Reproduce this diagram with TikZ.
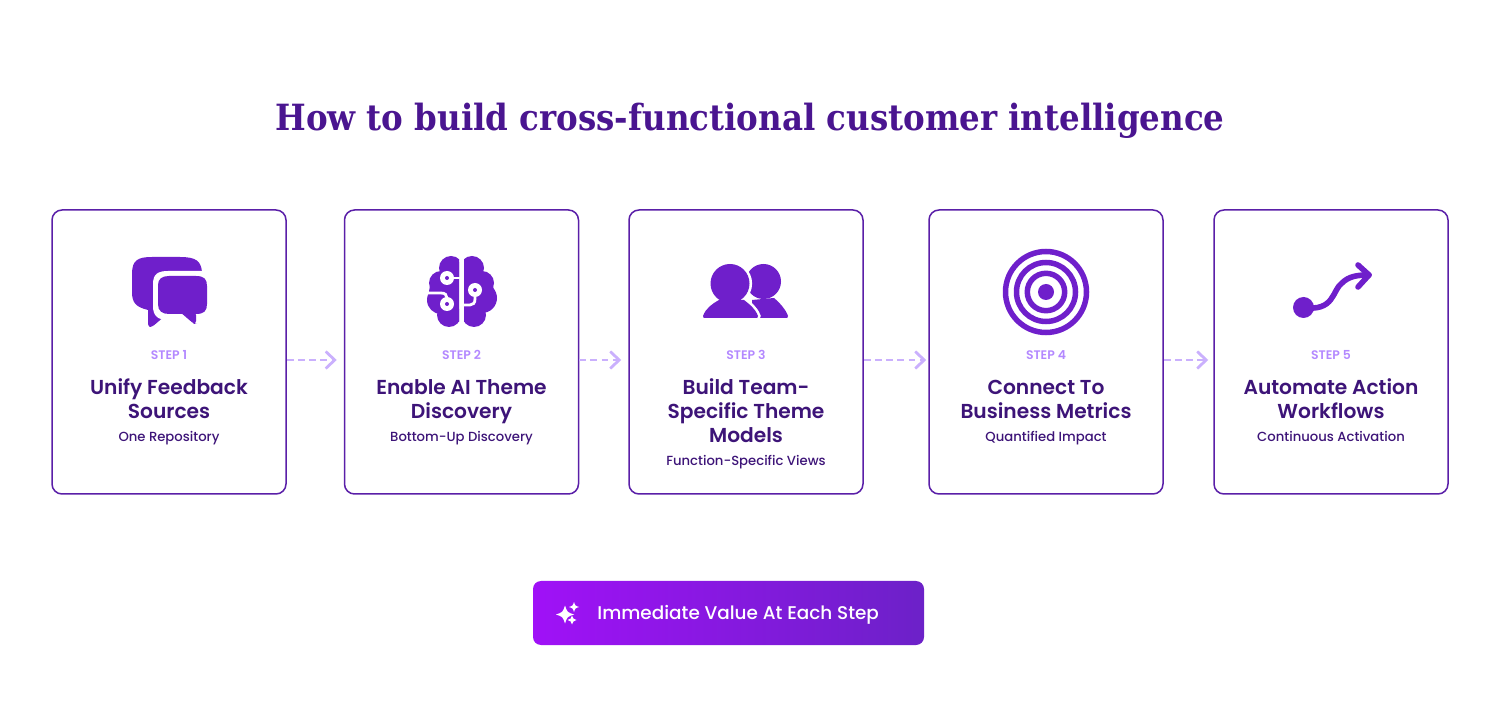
\documentclass[tikz,border=0pt]{standalone}
\usepackage{fontspec}
\setmainfont{Poppins}[UprightFont=* Medium,BoldFont=* SemiBold]
\newfontfamily\headfont{DejaVu Serif Condensed}
\usetikzlibrary{positioning,arrows.meta}
\definecolor{cardline}{HTML}{5A1FA8}
\definecolor{inkdark}{HTML}{3D1478}
\definecolor{headink}{HTML}{4A1590}
\definecolor{iconfill}{HTML}{6F1FCB}
\definecolor{steplilac}{HTML}{B388FF}
\definecolor{arrowlilac}{HTML}{CAB0FD}
\definecolor{btnleft}{HTML}{A011F7}
\definecolor{btnright}{HTML}{6C21C8}
\tikzset{
    card/.style={draw=cardline, line width=0.75pt, rounded corners=5pt, minimum width=117pt, minimum height=142pt, inner sep=0pt},
    steplabel/.style={text=steplilac, font=\fontsize{6.2}{7}\selectfont\bfseries, inner sep=0pt, anchor=base},
    steptitle/.style={text=inkdark, font=\fontsize{10.1}{12}\selectfont\bfseries, align=center, inner sep=0pt, anchor=north},
    stepsub/.style={text=inkdark, font=\fontsize{6.6}{8}\selectfont, inner sep=0pt, anchor=base},
    flow/.style={arrowlilac, line width=1.4pt, dash pattern=on 3.4pt off 2.2pt, -{Straight Barb[length=4.5pt,width=8.5pt,line width=1.4pt]}},
    iconpen/.style={iconfill, line cap=round, line join=round}
}
\newcommand{\sparkle}[3]{%
    \fill[white] (#1-#3,#2) .. controls (#1-0.25*#3,#2-0.25*#3) .. (#1,#2-#3)
        .. controls (#1+0.25*#3,#2-0.25*#3) .. (#1+#3,#2)
        .. controls (#1+0.25*#3,#2+0.25*#3) .. (#1,#2+#3)
        .. controls (#1-0.25*#3,#2+0.25*#3) .. cycle;}
\newcommand{\frontbody}{(703,316) .. controls (706,308) and (712,304) .. (719,300) -- (744,300) .. controls (749,304) and (755,308) .. (758,316) .. controls (758,318) and (757,318) .. (756,318) -- (705,318) .. controls (704,318) and (703,318) .. (703,316) -- cycle}
\newcommand{\lineone}{\rule{0pt}{8.5pt}}
\begin{document}
\begin{tikzpicture}[x=0.5pt,y=-0.5pt]
    \useasboundingbox (0,0) rectangle (1500,705);

    \node[text=headink, font=\fontsize{18.05}{24}\headfont\bfseries] (heading) at (750,120.5) {How to build cross-functional customer intelligence};

    % cards
    \node[card] (card1) at (169,352) {};
    \node[card] (card2) at (461.5,352) {};
    \node[card] (card3) at (746,352) {};
    \node[card] (card4) at (1046,352) {};
    \node[card] (card5) at (1331,352) {};

    % arrows between the cards
    \draw[flow, shorten >=3.5pt] ([yshift=-4pt]card1.east) -- ([yshift=-4pt]card2.west);
    \draw[flow, shorten >=3.5pt] ([yshift=-4pt]card2.east) -- ([yshift=-4pt]card3.west);
    \draw[flow, shorten >=1pt] ([yshift=-4pt]card3.east) -- ([yshift=-4pt]card4.west);
    \draw[flow, shorten >=2.5pt] ([yshift=-4pt]card4.east) -- ([yshift=-4pt]card5.west);

    % texts
    \node[steplabel] (label1) at (169,360) {STEP 1};
    \node[steplabel] (label2) at (461.5,360) {STEP 2};
    \node[steplabel] (label3) at (746,360) {STEP 3};
    \node[steplabel] (label4) at (1046,360) {STEP 4};
    \node[steplabel] (label5) at (1331,360) {STEP 5};

    \node[steptitle] (title1) at (169,377) {\lineone Unify Feedback\\Sources};
    \node[steptitle] (title2) at (461.5,377) {\lineone Enable AI Theme\\Discovery};
    \node[steptitle] (title3) at (746,377) {\lineone Build Team-\\Specific Theme\\Models};
    \node[steptitle] (title4) at (1046,377) {\lineone Connect To\\Business Metrics};
    \node[steptitle] (title5) at (1331,377) {\lineone Automate Action\\Workflows};

    \node[stepsub] (sub1) at (169,441.5) {One Repository};
    \node[stepsub] (sub2) at (461.5,441.5) {Bottom-Up Discovery};
    \node[stepsub] (sub3) at (746,465.5) {Function-Specific Views};
    \node[stepsub] (sub4) at (1046,441.5) {Quantified Impact};
    \node[stepsub] (sub5) at (1331,441.5) {Continuous Activation};

    % icon 1, two speech bubbles
    \fill[iconfill] (132,274) .. controls (132,260) and (138,257) .. (152,257) -- (180,257) .. controls (196,257) and (201,261) .. (202,272) -- (202,290) -- (160,315) -- (148,310) .. controls (136,307) and (132,303) .. (132,292) -- cycle;
    \fill[iconfill, rounded corners=1.5pt] (148,306) -- (148,327) -- (152,327) -- (166,315) -- cycle;
    \fill[white] (153,284) .. controls (153,274) and (158,271) .. (168,271) -- (210,271) -- (212,320) -- (168,320) .. controls (158,320) and (153,316) .. (153,306) -- cycle;
    \fill[iconfill] (158,285) .. controls (158,279) and (162,276) .. (169,276) -- (196,276) .. controls (204,276) and (207,279) .. (207,286) -- (207,304) .. controls (207,311) and (204,314) .. (196,314) -- (169,314) .. controls (162,314) and (158,311) .. (158,304) -- cycle;
    \fill[iconfill, rounded corners=1.5pt] (180,312) -- (194,324) -- (196,324) -- (196,312) -- cycle;

    % icon 2, brain
    \begin{scope}
        \clip (420,250) rectangle (459,332);
        \fill[iconfill] (451,268) circle (12);
        \fill[iconfill] (441,283) circle (12);
        \fill[iconfill] (441,291) circle (12);
        \fill[iconfill] (441,300) circle (14);
        \fill[iconfill] (449,315) circle (12);
        \fill[iconfill] (444,262) rectangle (460,322);
    \end{scope}
    \begin{scope}
        \clip (464,250) rectangle (502,332);
        \fill[iconfill] (472,268) circle (12);
        \fill[iconfill] (482,283) circle (12);
        \fill[iconfill] (482,291) circle (12);
        \fill[iconfill] (482,298) circle (15);
        \fill[iconfill] (474,315) circle (12);
        \fill[iconfill] (463,262) rectangle (480,322);
    \end{scope}
    \draw[white, line width=1.4pt, line cap=round] (447,278) -- (459,278);
    \draw[white, line width=1.4pt] (426,293) -- (441,293) .. controls (445,293) and (447,295) .. (447,298);
    \draw[white, line width=1.4pt] (475,296) -- (475,299) .. controls (475,303) and (473,305) .. (470,305) -- (464,305);
    \fill[white] (447,278) circle (7);
    \fill[white] (447,304) circle (7);
    \fill[white] (475,290) circle (7);
    \fill[iconfill] (447,278) circle (2);
    \fill[iconfill] (447,304) circle (2);
    \fill[iconfill] (475,290) circle (2);

    % icon 3, two persons
    \fill[iconfill] (763.5,281.5) circle (17.5);
    \fill[iconfill] (752,300) -- (774,298) .. controls (780,303) and (786,310) .. (788,316) .. controls (788,318) and (787,318) .. (786,318) -- (752,318) -- cycle;
    \draw[white, line width=2.6pt] \frontbody;
    \draw[white, line width=2.6pt] (730,283.5) circle (19.5);
    \fill[iconfill] \frontbody;
    \fill[iconfill] (730,283.5) circle (19.5);

    % icon 4, target
    \draw[iconfill, line width=2.75pt] (1046,292) circle (40.5);
    \draw[iconfill, line width=2.75pt] (1046,292) circle (29.5);
    \draw[iconfill, line width=2.75pt] (1046,292) circle (18.7);
    \fill[iconfill] (1046,292) circle (8);

    % icon 5, curved arrow
    \fill[iconfill] (1303.5,307.5) circle (10.5);
    \draw[iconpen, line width=2.8pt] (1303,307.5) .. controls (1335,312) and (1332,290) .. (1342,283) .. controls (1349,276) and (1358,275) .. (1369,275);
    \draw[iconpen, line width=2.8pt] (1358,265) -- (1369,275) -- (1358,287);

    % button
    \node[left color=btnleft, right color=btnright, rounded corners=4pt, minimum width=195.5pt, minimum height=32pt, inner sep=0pt] (button) at (728.5,613) {};
    \node[text=white, anchor=base west, font=\fontsize{9.2}{11}\selectfont, inner sep=0pt] (buttontext) at (597,619) {Immediate Value At Each Step};
    \sparkle{565}{614.5}{9}
    \sparkle{574}{607}{5}
    \sparkle{572}{620}{4.5}
\end{tikzpicture}
\end{document}
